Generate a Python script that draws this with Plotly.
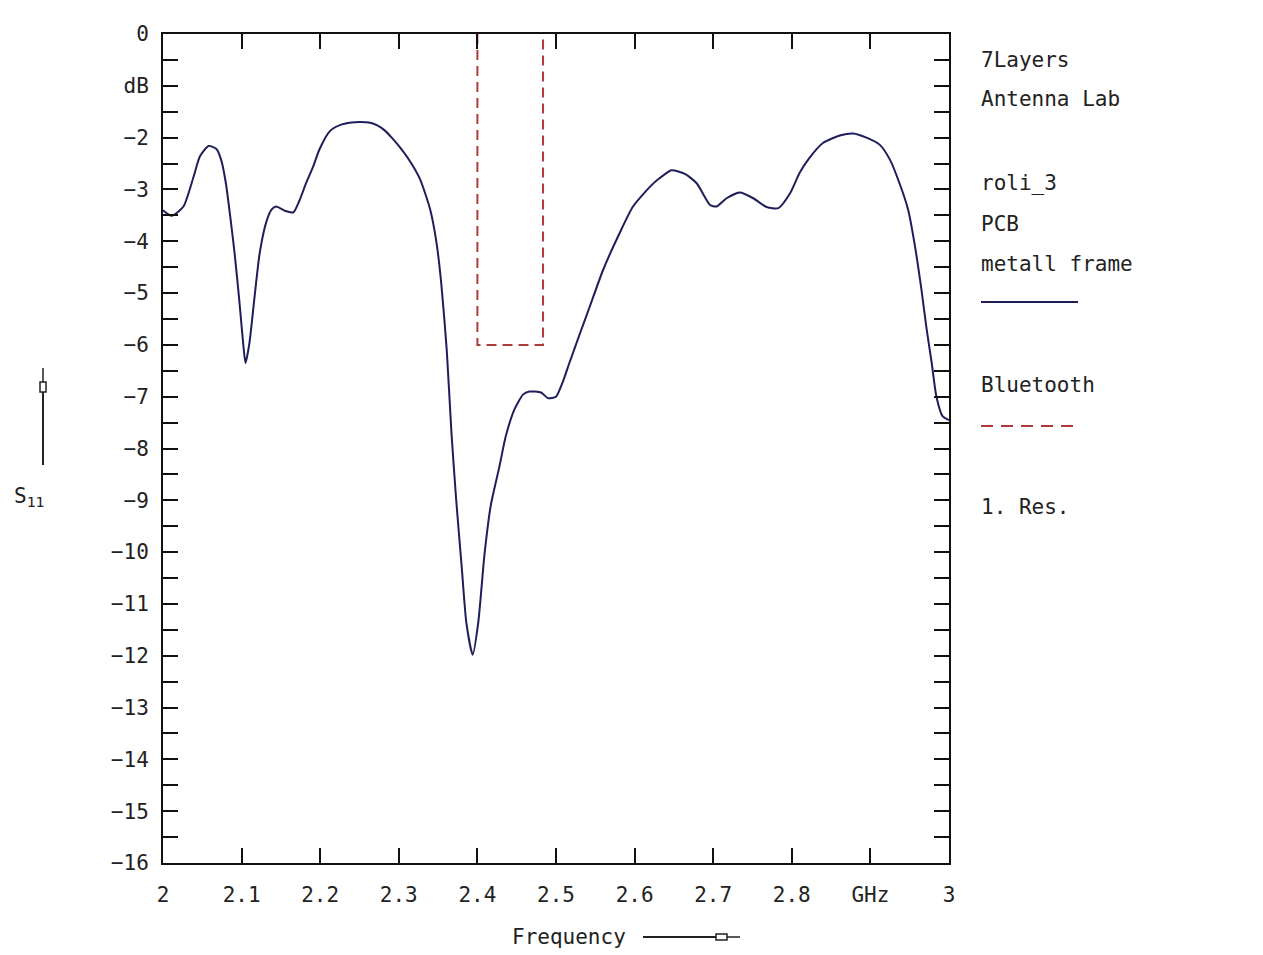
import plotly.graph_objects as go

# ---- data ----
freq_ghz = [2.000, 2.011, 2.026, 2.039, 2.047, 2.058, 2.068, 2.074, 2.080, 2.086,
            2.091, 2.097, 2.102, 2.105, 2.110, 2.117, 2.123, 2.131, 2.138, 2.144,
            2.155, 2.166, 2.174, 2.182, 2.191, 2.199, 2.212, 2.225, 2.240, 2.250,
            2.262, 2.272, 2.282, 2.291, 2.300, 2.314, 2.327, 2.340, 2.348, 2.354,
            2.361, 2.367, 2.373, 2.380, 2.386, 2.394, 2.401, 2.409, 2.417, 2.428,
            2.436, 2.447, 2.458, 2.466, 2.481, 2.490, 2.500, 2.508, 2.517, 2.530,
            2.543, 2.560, 2.581, 2.598, 2.620, 2.632, 2.647, 2.664, 2.679, 2.696,
            2.704, 2.717, 2.734, 2.751, 2.768, 2.783, 2.798, 2.810, 2.822, 2.840,
            2.861, 2.878, 2.895, 2.912, 2.925, 2.937, 2.948, 2.956, 2.965, 2.971,
            2.978, 2.984, 2.992, 3.000]
s11_db = [-3.40, -3.51, -3.33, -2.75, -2.36, -2.16, -2.22, -2.43, -2.88, -3.58,
          -4.22, -5.13, -5.97, -6.35, -5.96, -5.00, -4.23, -3.65, -3.39, -3.33,
          -3.41, -3.44, -3.20, -2.88, -2.56, -2.23, -1.88, -1.76, -1.71, -1.70,
          -1.71, -1.76, -1.86, -2.00, -2.16, -2.45, -2.80, -3.39, -4.03, -4.81,
          -6.10, -7.70, -8.99, -10.28, -11.37, -11.98, -11.37, -10.05, -9.10, -8.35,
          -7.77, -7.25, -6.96, -6.90, -6.92, -7.03, -7.00, -6.74, -6.35, -5.80,
          -5.26, -4.55, -3.84, -3.33, -2.94, -2.78, -2.63, -2.70, -2.88, -3.30,
          -3.33, -3.17, -3.06, -3.17, -3.34, -3.36, -3.07, -2.68, -2.40, -2.10,
          -1.96, -1.92, -2.00, -2.14, -2.43, -2.88, -3.39, -4.03, -4.94, -5.64,
          -6.35, -7.00, -7.38, -7.45]

bt_freq = [2.400, 2.400, 2.4835, 2.4835]
bt_db = [0, -6, -6, 0]

x_tickvals = [2.0, 2.1, 2.2, 2.3, 2.4, 2.5, 2.6, 2.7, 2.8, 2.9, 3.0]
x_ticktext = ["2", "2.1", "2.2", "2.3", "2.4", "2.5", "2.6", "2.7", "2.8", "GHz", "3"]

y_tickvals = [v * -0.5 for v in range(0, 33)]
y_ticktext = []
for v in y_tickvals:
    if v == 0:
        y_ticktext.append("0")
    elif v == -1:
        y_ticktext.append("dB")
    elif v == int(v):
        y_ticktext.append("\u2212" + str(int(-v)))
    else:
        y_ticktext.append(" ")

side_texts = [("7Layers", 60), ("Antenna Lab", 99), ("roli_3", 183), ("PCB", 224),
              ("metall frame", 264), ("Bluetooth", 385), ("1. Res.", 507)]

# ---- layout geometry (reference pixels; page body adds an 8px offset) ----
OFF = 8
W, H = 1263 - OFF, 955 - OFF
L, R, T, B = 163, 949, 34, 863
FONT = "DejaVu Sans Mono"
FS = 21
CURVE = "#1e1e5a"
RED = "#b03a3a"
TXT = "#222"


def px(xp):
    return (xp - L) / (R - L)


def py(yp):
    return (B - yp) / (B - T)


fig = go.Figure()
fig.add_trace(go.Scatter(x=freq_ghz, y=s11_db, mode="lines",
                         line=dict(color=CURVE, width=2, shape="spline", smoothing=0.6),
                         hoverinfo="x+y", showlegend=False))
fig.add_trace(go.Scatter(x=bt_freq, y=bt_db, mode="lines",
                         line=dict(color=RED, width=2, dash="10px,6px"), showlegend=False))

axis_common = dict(showline=True, linecolor="#111", linewidth=2, mirror="ticks", ticks="inside",
                   ticklen=15, tickwidth=2, tickcolor="#111", showgrid=False, zeroline=False,
                   tickfont=dict(family=FONT, size=FS, color=TXT))

fig.update_layout(
    width=W, height=H,
    margin=dict(l=L - OFF, r=(W + OFF) - R, t=T - OFF, b=(H + OFF) - B, pad=0),
    paper_bgcolor="white", plot_bgcolor="white",
    xaxis=dict(range=[2, 3], tickmode="array", tickvals=x_tickvals, ticktext=x_ticktext,
               ticklabelstandoff=12, **axis_common),
    yaxis=dict(range=[-16, 0], tickmode="array", tickvals=y_tickvals, ticktext=y_ticktext,
               ticklabelstandoff=8, **axis_common),
)

annots = []
for txt, yp in side_texts:
    annots.append(dict(text=txt, x=px(979), y=py(yp), xref="paper", yref="paper", xanchor="left",
                       yanchor="middle", showarrow=False, font=dict(family=FONT, size=FS, color=TXT)))
annots.append(dict(text="Frequency", x=px(628), y=py(937), xref="paper", yref="paper", xanchor="right",
                   yanchor="middle", showarrow=False, font=dict(family=FONT, size=FS, color=TXT)))
annots.append(dict(text="S<sub>11</sub>", x=px(12), y=py(497), xref="paper", yref="paper", xanchor="left",
                   yanchor="middle", showarrow=False, font=dict(family=FONT, size=FS, color=TXT)))
fig.update_layout(annotations=annots)

shapes = [
    # legend sample lines
    dict(type="line", xref="paper", yref="paper", x0=px(981), x1=px(1078), y0=py(302), y1=py(302),
         line=dict(color=CURVE, width=2)),
    dict(type="line", xref="paper", yref="paper", x0=px(981), x1=px(1075), y0=py(426), y1=py(426),
         line=dict(color=RED, width=2, dash="12px,8px")),
    # y-axis arrow
    dict(type="line", xref="paper", yref="paper", x0=px(43), x1=px(43), y0=py(465), y1=py(392),
         line=dict(color=TXT, width=2)),
    dict(type="rect", xref="paper", yref="paper", x0=px(40), x1=px(46), y0=py(392), y1=py(382),
         line=dict(color=TXT, width=1.5)),
    dict(type="line", xref="paper", yref="paper", x0=px(43), x1=px(43), y0=py(382), y1=py(368),
         line=dict(color=TXT, width=1.5)),
    # x-axis arrow
    dict(type="line", xref="paper", yref="paper", x0=px(643), x1=px(716), y0=py(937), y1=py(937),
         line=dict(color=TXT, width=2)),
    dict(type="rect", xref="paper", yref="paper", x0=px(716), x1=px(727), y0=py(934), y1=py(940),
         line=dict(color=TXT, width=1.5)),
    dict(type="line", xref="paper", yref="paper", x0=px(727), x1=px(740), y0=py(937), y1=py(937),
         line=dict(color=TXT, width=1.5)),
]
fig.update_layout(shapes=shapes)

fig.write_html("out.html")
